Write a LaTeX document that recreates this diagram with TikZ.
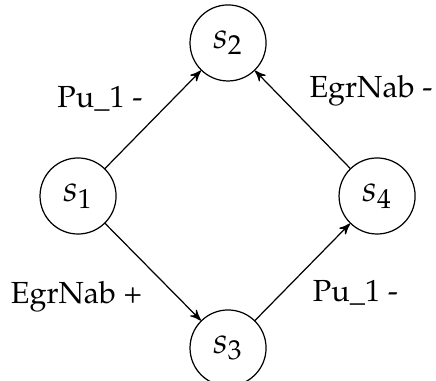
\documentclass[tikz,border=0pt]{standalone}
\usepackage[T1]{fontenc}
\usepackage{mathpazo}
\usetikzlibrary{arrows}

\begin{document}
\begin{tikzpicture}[line cap=round,line join=round,>=stealth',x=1cm,y=1cm,
  state/.style={draw,circle,minimum size=0.876cm,inner sep=0pt,font=\large}]
\useasboundingbox (-0.899,-2.131) rectangle (4.124,2.258);
% the four states
\node[state] (s1) at (0,0) {$s_1$};
\node[state] (s2) at (1.728,1.763) {$s_2$};
\node[state] (s3) at (1.728,-1.751) {$s_3$};
\node[state] (s4) at (3.445,0) {$s_4$};
% transitions
\draw [->] (s1) -- (s2);
\draw [->] (s4) -- (s2);
\draw [->] (s1) -- (s3);
\draw [->] (s3) -- (s4);
% labels
\node[anchor=base] (l12) at (0.253,1.025) {Pu\_1 -};
\node[anchor=base] (l42) at (3.375,1.129) {EgrNab -};
\node[anchor=base] (l13) at (-0.017,-1.233) {EgrNab +};
\node[anchor=base] (l34) at (3.197,-1.218) {Pu\_1 -};
\end{tikzpicture}
\end{document}
